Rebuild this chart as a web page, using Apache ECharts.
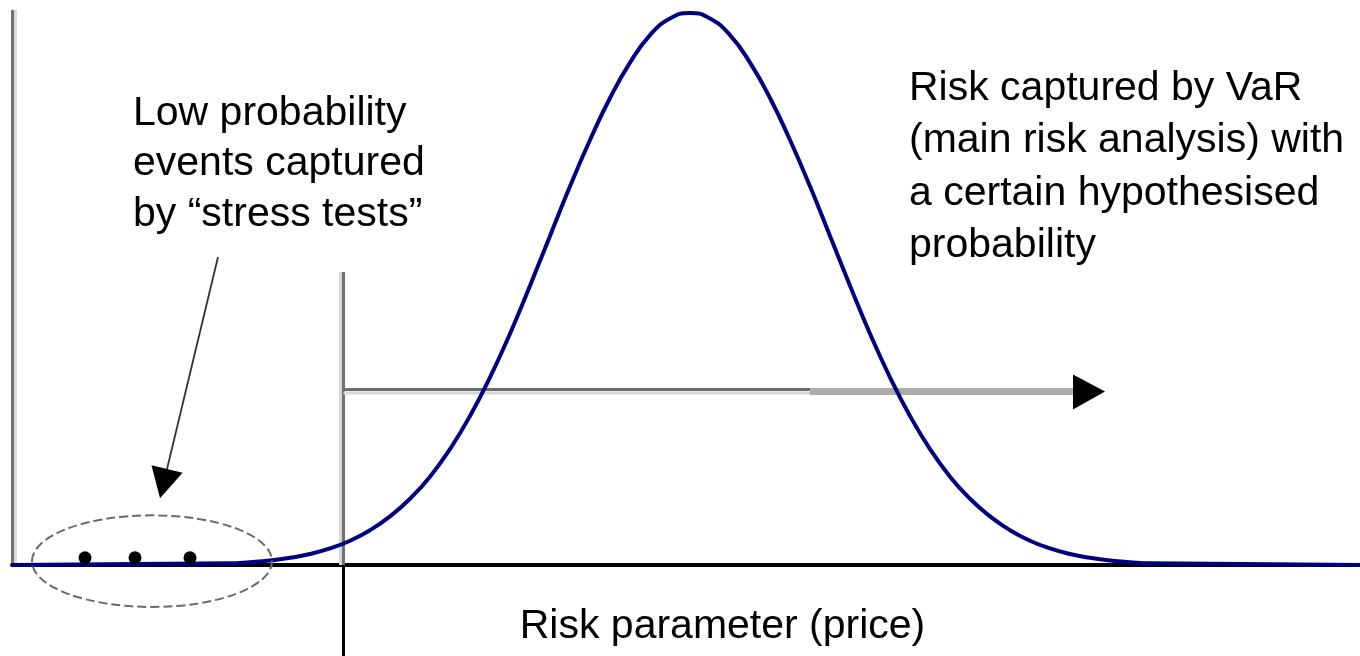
<!DOCTYPE html>
<html><head><meta charset="utf-8">
<script src="https://cdn.jsdelivr.net/npm/echarts@6/dist/echarts.min.js"></script>
<style>html,body{margin:0;padding:0;background:#fff}#c{width:1360px;height:656px}</style>
</head><body><div id="c"></div>
<script>
// ---- data (x in price units along the axis, y = relative density, peak = 100) ----
const curveX = [0, 218,238,258,278,298,318,338,358,378,398,418,438,458,478,498,518,538,558,578,598,618,638,658,678,698,718,738,758,778,798,818,838,858,878,898,918,938,958,978,998,1018,1038,1058,1078,1098,1118,1138, 1348];
const curveY = [0, 0.3,0.5,0.8,1.3,2.0,3.0,4.4,6.3,8.8,12.0,16.0,21.0,27.0,34.0,41.9,50.6,59.6,68.6,77.0,84.6,91.0,96.0,99.0,100,99.0,96.0,91.0,84.6,77.0,68.6,59.6,50.6,41.9,34.0,27.0,21.0,16.0,12.0,8.8,6.3,4.4,3.0,2.0,1.3,0.8,0.5,0.3, 0];
const eventX = [73, 123, 178];
const eventY = [1.3, 1.3, 1.3];
const varX = 331.5;          // VaR threshold
const varTopY = 53.1;
const arrowY = 31.8;
const arrowSplitX = 798;
const arrowTipX = 1093;
const ellipseCenter = [140, 0.7];
const ellipseRX = 120;
const ellipseRY = 8.3;
const pointerStart = [206, 55.8];
const pointerTip = [148, 12.1];
const leftNote = ['Low probability', 'events captured', 'by \u201cstress tests\u201d'];
const rightNote = ['Risk captured by VaR', '(main risk analysis) with', 'a certain hypothesised', 'probability'];
const axisTitle = 'Risk parameter (price)';

const FONT = '41px "Liberation Sans", Arial, sans-serif';
const chart = echarts.init(document.getElementById('c'), null, {renderer: 'canvas'});
chart.setOption({
  animation: false,
  backgroundColor: '#fff',
  grid: {left: 12, right: 0, top: 11, bottom: 91},
  xAxis: {type: 'value', min: 0, max: 1348,
    axisLine: {show: true, onZero: false, lineStyle: {color: '#000', width: 4}},
    axisTick: {show: false}, axisLabel: {show: false}, splitLine: {show: false}},
  yAxis: {type: 'value', min: 0, max: 100.36,
    axisLine: {show: true, lineStyle: {color: '#707070', width: 3, shadowColor: '#dcdcdc', shadowOffsetX: 3, shadowBlur: 0}},
    axisTick: {show: false}, axisLabel: {show: false}, splitLine: {show: false}},
  series: [
    {type: 'line', data: curveX.map((x, i) => [x, curveY[i]]), smooth: 0.5, symbol: 'none',
     lineStyle: {color: '#000080', width: 4}, z: 3},
    {type: 'scatter', data: eventX.map((x, i) => [x, eventY[i]]), symbolSize: 13,
     itemStyle: {color: '#000', opacity: 1}, z: 5}
  ]
});

const P = (x, y) => chart.convertToPixel({gridIndex: 0}, [x, y]);
const g = [];
// VaR vertical line
const v0 = P(varX, varTopY), v1 = P(varX, 0);
g.push({type: 'line', z: 1, shape: {x1: v0[0], y1: v0[1], x2: v1[0], y2: v1[1]},
  style: {stroke: '#707070', lineWidth: 3, shadowColor: '#d8d8d8', shadowOffsetX: -3, shadowBlur: 0}});
g.push({type: 'line', z: 1, shape: {x1: v1[0], y1: v1[1], x2: v1[0], y2: 656},
  style: {stroke: '#000', lineWidth: 3}});
// horizontal arrow
const a0 = P(varX, arrowY), a1 = P(arrowSplitX, arrowY), a2 = P(arrowTipX, arrowY);
g.push({type: 'line', z: 1, shape: {x1: a0[0], y1: a0[1], x2: a1[0], y2: a1[1]},
  style: {stroke: '#6e6e6e', lineWidth: 3, shadowColor: '#d6d6d6', shadowOffsetY: 3.5, shadowBlur: 0}});
g.push({type: 'line', z: 1, shape: {x1: a1[0], y1: a1[1] + 2, x2: a2[0] - 30, y2: a2[1] + 2},
  style: {stroke: '#acacac', lineWidth: 7}});
g.push({type: 'polygon', z: 1, shape: {points: [[a2[0] - 32, a2[1] - 15], [a2[0] - 32, a2[1] + 20], [a2[0], a2[1] + 2]]},
  style: {fill: '#000'}});
// dashed ellipse
const c = P(ellipseCenter[0], ellipseCenter[1]);
const rx = P(ellipseCenter[0] + ellipseRX, ellipseCenter[1])[0] - c[0];
const ry = c[1] - P(ellipseCenter[0], ellipseCenter[1] + ellipseRY)[1];
g.push({type: 'ellipse', z: 6, shape: {cx: c[0], cy: c[1], rx: rx, ry: ry},
  style: {fill: null, stroke: '#6a6a6a', lineWidth: 2, lineDash: [9, 4]}});
// pointer arrow
const s = P(pointerStart[0], pointerStart[1]), t = P(pointerTip[0], pointerTip[1]);
const dx = t[0] - s[0], dy = t[1] - s[1], L = Math.hypot(dx, dy);
const ux = dx / L, uy = dy / L, nx = -uy, ny = ux;
const bx = t[0] - ux * 30, by = t[1] - uy * 30;
g.push({type: 'line', z: 6, shape: {x1: s[0], y1: s[1], x2: bx, y2: by},
  style: {stroke: '#333', lineWidth: 1.8}});
g.push({type: 'polygon', z: 6, shape: {points: [[bx + nx * 16, by + ny * 16], [bx - nx * 16, by - ny * 16], [t[0], t[1]]]},
  style: {fill: '#000'}});
// texts
g.push({type: 'text', z: 10, x: 133, y: 88,
  style: {text: leftNote.join('\n'), font: FONT, fill: '#000', lineHeight: 50.5, align: 'left', verticalAlign: 'top'}});
g.push({type: 'text', z: 10, x: 909, y: 62.5,
  style: {text: rightNote.join('\n'), font: FONT, fill: '#000', lineHeight: 52.3, align: 'left', verticalAlign: 'top'}});
g.push({type: 'text', z: 10, x: 722.5, y: 626.5,
  style: {text: axisTitle, font: FONT, fill: '#000', align: 'center', verticalAlign: 'middle'}});
chart.setOption({graphic: {elements: g}});
</script>
</body></html>
